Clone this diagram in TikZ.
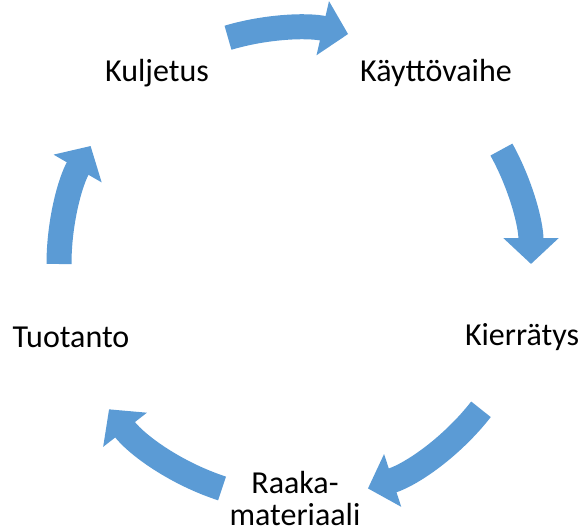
\documentclass[tikz,border=0pt]{standalone}
\usepackage{fontspec}
\setmainfont{Carlito}
\usetikzlibrary{arrows.meta}
\definecolor{kiertosini}{RGB}{91,155,213}
\tikzset{
  vaihe/.style={font=\fontsize{32}{32}\selectfont, align=center, inner sep=0pt},
  kierto/.style={draw=kiertosini, line width=25pt,
    -{Triangle[width=54pt,length=26pt]}, kiertosini}
}
\begin{document}
\begin{tikzpicture}[x=1pt,y=1pt]
\useasboundingbox (0,0) rectangle (580,531);
\coordinate (keski) at (295,267);

\node[vaihe] (kul) at (157,458) {Kuljetus};
\node[vaihe] (kay) at (436,458) {Käyttövaihe};
\node[vaihe] (kie) at (522,194) {Kierrätys};
\node[vaihe] (raa) at (295,32) {Raaka-\\materiaali};
\node[vaihe] (tuo) at (71,194) {Tuotanto};

\draw[kierto] ([shift={(106.5:236)}]keski) arc[start angle=106.5, end angle=77, radius=236];
\draw[kierto] ([shift={(29:236)}]keski) arc[start angle=29, end angle=0, radius=236];
\draw[kierto] ([shift={(-38:236)}]keski) arc[start angle=-38, end angle=-72, radius=236];
\draw[kierto] ([shift={(-108:236)}]keski) arc[start angle=-108, end angle=-142, radius=236];
\draw[kierto] ([shift={(180:236)}]keski) arc[start angle=180, end angle=150, radius=236];

\end{tikzpicture}
\end{document}
